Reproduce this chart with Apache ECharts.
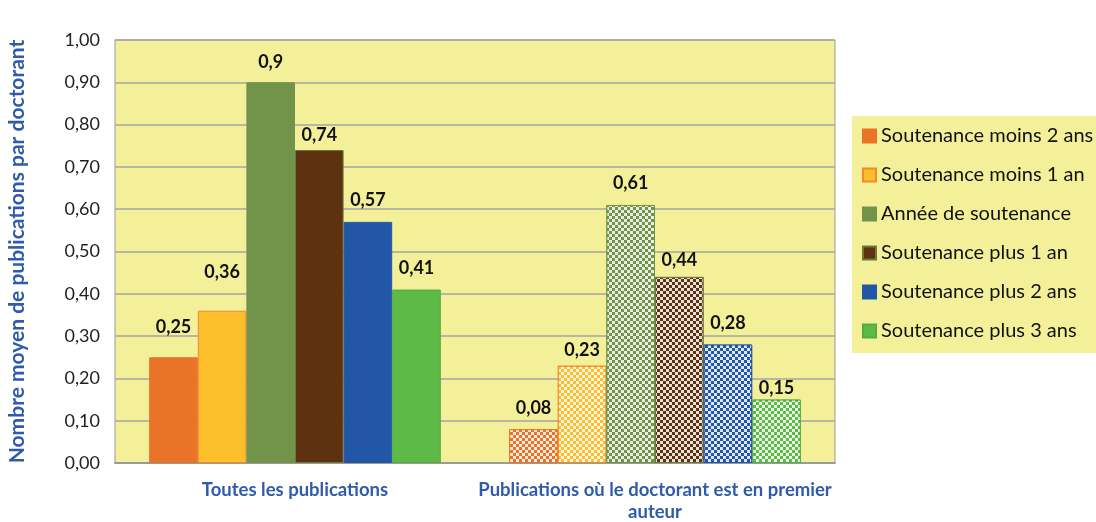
<!DOCTYPE html>
<html>
<head>
<meta charset="utf-8">
<script src="https://cdn.jsdelivr.net/npm/echarts@6/dist/echarts.min.js"></script>
<style>
  html, body { margin: 0; padding: 0; background: #fff; }
  #chart { width: 1096px; height: 522px; }
</style>
</head>
<body>
<div id="chart"></div>
<script>
// categories
var categories = ['Toutes les publications', 'Publications où le doctorant est en premier\nauteur'];
var seriesNames = [
    'Soutenance moins 2 ans',
    'Soutenance moins 1 an',
    'Année de soutenance',
    'Soutenance plus 1 an',
    'Soutenance plus 2 ans',
    'Soutenance plus 3 ans'
];
// one array per category group
var allPubs = [0.25, 0.36, 0.9, 0.74, 0.57, 0.41];
var firstAuthor = [0.08, 0.23, 0.61, 0.44, 0.28, 0.15];
var yTicks = [0, 0.1, 0.2, 0.3, 0.4, 0.5, 0.6, 0.7, 0.8, 0.9, 1.0];

var colors = ['#E97427', '#FDBE2C', '#71934A', '#5E3110', '#2256A6', '#5EBA47'];
var borders = ['#E97427', '#F08A2A', '#71934A', '#6B7A3A', '#2256A6', '#55AA40'];
// écart étiquette / haut de barre (comme dans Excel, un peu décalé)
var liftAll = [21, 30, 11, 6, 13, 12];
var liftFirst = [12, 7, 13, 8, 12, 2];

var chart = echarts.init(document.getElementById('chart'));

function fmt(v) {
    return String(v).replace('.', ',');
}

// damier blanc pour le 2e groupe
var checker = {
    symbol: 'rect',
    symbolSize: 1,
    dashArrayX: [[3, 3], [0, 3, 3, 0]],
    dashArrayY: [3, 0],
    color: 'rgba(255,255,255,0.85)',
    rotation: 0
};

var series = seriesNames.map(function (name, i) {
    return {
        name: name,
        type: 'bar',
        barGap: '0%',
        barCategoryGap: '19%',
        itemStyle: { color: colors[i], borderColor: borders[i], borderWidth: 1 },
        label: {
            show: true,
            position: 'top',
            fontFamily: 'Lato',
            fontWeight: 'bold',
            fontSize: 18,
            color: '#111',
            formatter: function (p) { return fmt(p.value); }
        },
        data: [
            { value: allPubs[i], label: { distance: liftAll[i] } },
            { value: firstAuthor[i], label: { distance: liftFirst[i] }, itemStyle: { decal: checker } }
        ]
    };
});

var option = {
    animation: false,
    textStyle: { fontFamily: 'Lato' },
    legend: {
        orient: 'vertical',
        left: 852,
        top: 116,
        width: 260,
        backgroundColor: '#F4F09A',
        padding: [10, 30, 12, 10],
        itemGap: 19,
        itemWidth: 13,
        itemHeight: 13,
        icon: 'rect',
        textStyle: { fontFamily: 'Lato', fontSize: 20, color: '#111' },
        data: seriesNames
    },
    grid: {
        left: 115,
        right: 261,
        top: 40,
        bottom: 59,
        outerBoundsMode: 'none',
        containLabel: false,
        show: true,
        backgroundColor: '#F4F09A',
        borderColor: '#9A9A9A',
        borderWidth: 1
    },
    xAxis: {
        type: 'category',
        data: categories,
        axisTick: { show: false },
        axisLine: { lineStyle: { color: '#9A9A9A', width: 2 } },
        axisLabel: {
            interval: 0,
            margin: 16,
            fontFamily: 'Lato',
            fontWeight: 'bold',
            fontSize: 18.5,
            color: '#2F5BAA',
            lineHeight: 22
        }
    },
    yAxis: {
        type: 'value',
        min: 0,
        max: 1,
        interval: 0.1,
        name: 'Nombre moyen de publications par doctorant',
        nameLocation: 'middle',
        nameGap: 87,
        nameTextStyle: {
            fontFamily: 'Lato',
            fontWeight: 'bold',
            fontSize: 21,
            color: '#2F5BAA'
        },
        axisLine: { show: false },
        axisTick: { show: false },
        splitLine: { lineStyle: { color: '#A5A5A5', width: 1.5 } },
        axisLabel: {
            margin: 15,
            fontFamily: 'Lato',
            fontSize: 18,
            color: '#222',
            formatter: function (v) {
                var t = yTicks.reduce(function (a, b) { return Math.abs(b - v) < Math.abs(a - v) ? b : a; });
                return t.toFixed(2).replace('.', ',');
            }
        }
    },
    series: series
};

chart.setOption(option);
</script>
</body>
</html>
